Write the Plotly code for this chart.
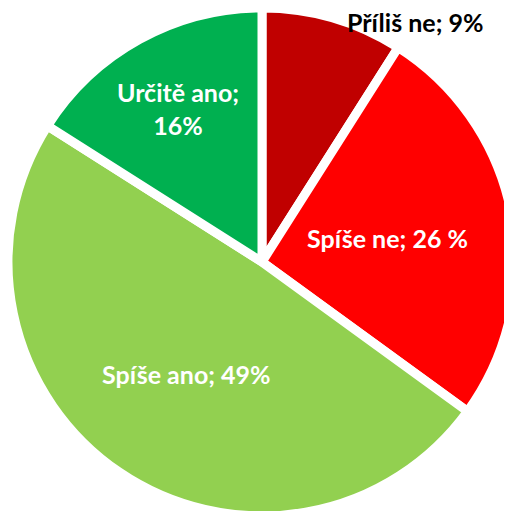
import math
import plotly.graph_objects as go

categories = ["Příliš ne", "Spíše ne", "Spíše ano", "Určitě ano"]
values = [9, 26, 49, 16]
label_texts = ["Příliš ne; 9%", "Spíše ne; 26 %", "Spíše ano; 49%", "Určitě ano;<br>16%"]
colors = ["#C00000", "#FF0000", "#92D050", "#00B050"]

W, H = 508, 508
OFF = 8  # default page body margin
fig = go.Figure(go.Pie(
    labels=categories,
    values=values,
    sort=False,
    direction="clockwise",
    rotation=0,
    marker=dict(colors=colors, line=dict(color="white", width=9)),
    textinfo="none",
    hoverinfo="label+percent",
    showlegend=False,
    domain=dict(x=[0, 1], y=[0, 1]),
))

# label placement derived from slice angles (screen pixel geometry)
cx, cy, R = 262, 262, 250
radial = [None, 0.51, 0.54, 0.70]
total = sum(values)
cum = 0
annotations = []
for i, v in enumerate(values):
    mid = (cum + v / 2) / total * 2 * math.pi
    cum += v
    if radial[i] is None:
        px, py = 415, 22
        color = "black"
    else:
        px = cx + radial[i] * R * math.sin(mid)
        py = cy - radial[i] * R * math.cos(mid)
        color = "white"
    annotations.append(dict(
        x=(px - OFF) / W, y=1 - (py - OFF) / H, xref="paper", yref="paper",
        text="<b>" + label_texts[i] + "</b>", showarrow=False,
        font=dict(family="Lato", size=25, color=color),
        xanchor="center", yanchor="middle", align="center",
    ))

fig.update_layout(
    width=W, height=H,
    margin=dict(l=0, r=0, t=0, b=0),
    paper_bgcolor="white", plot_bgcolor="white",
    annotations=annotations,
)
fig.write_html("out.html")
